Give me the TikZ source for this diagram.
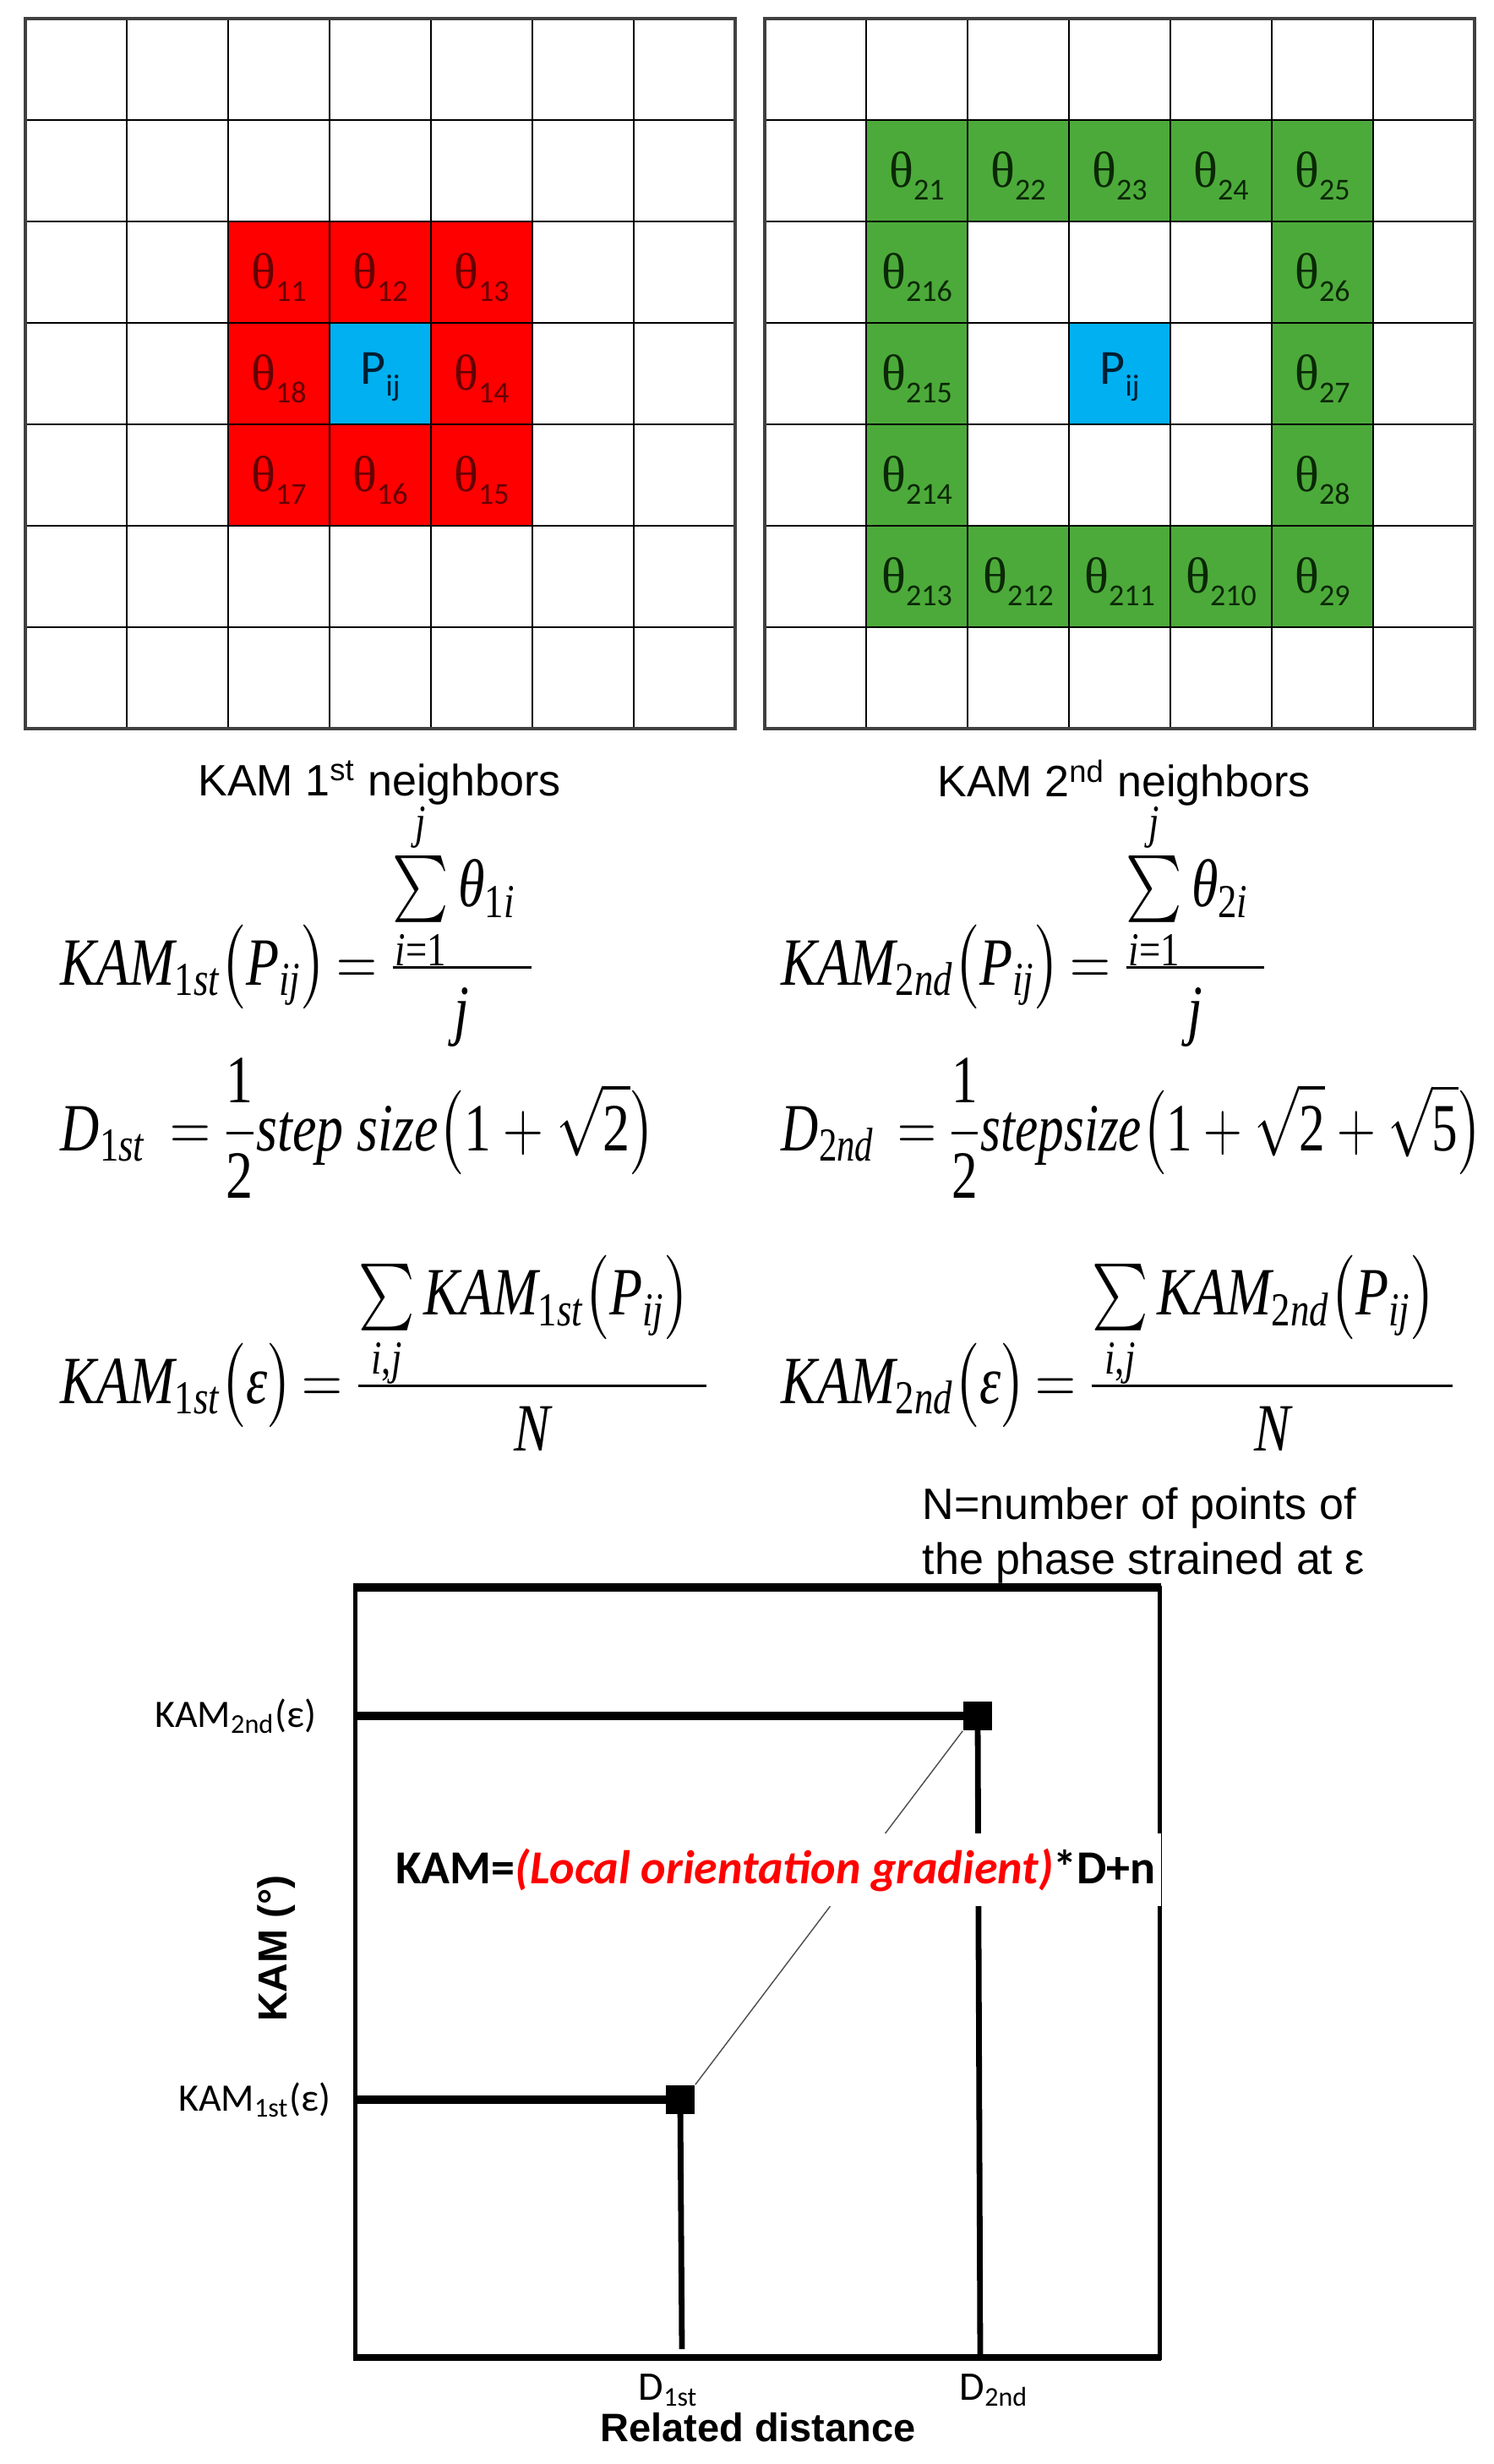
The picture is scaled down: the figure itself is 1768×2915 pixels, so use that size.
\documentclass[tikz,border=0pt]{standalone}
\usepackage{graphicx}
\usepackage{amsmath}
\usepackage{fontspec}
\setmainfont{Liberation Sans}
\newfontfamily\calfont{Carlito}
\newfontfamily\tmsfont{Liberation Serif}
\definecolor{kred}{RGB}{255,0,0}
\definecolor{kblue}{RGB}{0,176,240}
\definecolor{kgreen}{RGB}{76,170,58}
\definecolor{tred}{RGB}{100,0,0}
\definecolor{tgreen}{RGB}{10,40,5}
\definecolor{tblue}{RGB}{0,30,50}
\newcommand\thl[1]{{\fontsize{15pt}{16pt}\tmsfont θ}\raisebox{-3.6pt}{\fontsize{9pt}{9pt}\calfont #1}}
\newcommand\pij{{\fontsize{14.5pt}{16pt}\calfont P}\raisebox{-3.6pt}{\fontsize{9pt}{9pt}\calfont ij}}
\newcommand\eqsize{\fontsize{20pt}{24pt}\selectfont}
\newcommand\eqbox[2][0.8]{\scalebox{#1}[1]{\eqsize$\displaystyle #2$}}
\newcommand\ti[1]{\text{\tmsfont\itshape #1}}
\newcommand\tu[1]{\text{\tmsfont #1}}
\newcommand\sone{{\tu{1}\ti{st}}}
\newcommand\stwo{{\tu{2}\ti{nd}}}
\newcommand\smsum{\mathop{\vcenter{\hbox{\scalebox{0.95}{$\textstyle\sum$}}}}\limits}
\newcommand\lownum[2]{\raisebox{-#1}[\height][\depth]{$\textstyle #2$}}
\newcommand\eqs{\mkern-2mu=\mkern-1mu}
\begin{document}
\begin{tikzpicture}[x=0.25pt,y=-0.25pt,
  gridline/.style={line width=0.7pt,black},
  outerline/.style={line width=1pt,black!75},
  eqn/.style={anchor=base west,inner sep=0pt},
  cellred/.style={text=tred,inner sep=0pt},
  cellgreen/.style={text=tgreen,inner sep=0pt},
  sideline/.style={line width=1.25pt},
  thickline/.style={line width=2.3pt},
  dline/.style={line width=1.7pt},
  sq/.style={fill=black,minimum size=8.5pt,inner sep=0pt},
  lbl/.style={inner sep=0pt}]
\fill[white] (0,0) rectangle (1768,2915);
\useasboundingbox (0,0) rectangle (1768,2915);
% ---------- left grid ----------
\foreach \c/\r/\lab in {2/2/11,3/2/12,4/2/13,2/3/18,4/3/14,2/4/17,3/4/16,4/4/15} {
  \fill[kred] (30+120*\c,22+120*\r) rectangle ++(120,120);
}
\fill[kblue] (390,382) rectangle (510,502);
\foreach \i in {1,...,6} {
  \draw[gridline] (30+120*\i,22) -- (30+120*\i,862);
  \draw[gridline] (30,22+120*\i) -- (870,22+120*\i);
}
\draw[outerline] (30,22) rectangle (870,862);
\foreach \c/\r/\lab in {2/2/11,3/2/12,4/2/13,2/3/18,4/3/14,2/4/17,3/4/16,4/4/15} {
  \node[cellred] (a\lab) at (90+120*\c,88+120*\r) {\thl{\lab}};
}
\node[text=tblue,inner sep=0pt] (pa) at (450,446) {\pij};
% ---------- right grid ----------
\foreach \c/\r/\lab in {1/1/21,2/1/22,3/1/23,4/1/24,5/1/25,5/2/26,5/3/27,5/4/28,5/5/29,4/5/210,3/5/211,2/5/212,1/5/213,1/4/214,1/3/215,1/2/216} {
  \fill[kgreen] (905+120*\c,22+120*\r) rectangle ++(120,120);
}
\fill[kblue] (1265,382) rectangle (1385,502);
\foreach \i in {1,...,6} {
  \draw[gridline] (905+120*\i,22) -- (905+120*\i,862);
  \draw[gridline] (905,22+120*\i) -- (1745,22+120*\i);
}
\draw[outerline] (905,22) rectangle (1745,862);
\foreach \c/\r/\lab in {1/1/21,2/1/22,3/1/23,4/1/24,5/1/25,5/2/26,5/3/27,5/4/28,5/5/29,4/5/210,3/5/211,2/5/212,1/5/213,1/4/214,1/3/215,1/2/216} {
  \node[cellgreen] (b\lab) at (965+120*\c,88+120*\r) {\thl{\lab}};
}
\node[text=tblue,inner sep=0pt] (pb) at (1325,446) {\pij};
% ---------- captions ----------
\node[lbl] (cap1) at (449,926) {\fontsize{13pt}{15pt}\selectfont KAM 1\textsuperscript{st} neighbors};
\node[lbl] (cap2) at (1330,926) {\fontsize{13pt}{15pt}\selectfont KAM 2\textsuperscript{nd} neighbors};
% ---------- equations ----------
\node[eqn] (e1l) at (71,1165) {\eqbox{\ti{KAM}_{\sone}\bigl(\ti{P}_{\ti{ij}}\bigr)\eqs\frac{\lownum{4.5pt}{\smsum_{\ti{i}\tu{=1}}^{\ti{j}}\ti{θ}_{\tu{1}\ti{i}}\;}}{\ti{j}}}};
\node[eqn] (e1r) at (924,1165) {\eqbox{\ti{KAM}_{\stwo}\bigl(\ti{P}_{\ti{ij}}\bigr)\eqs\frac{\lownum{4.5pt}{\smsum_{\ti{i}\tu{=1}}^{\ti{j}}\ti{θ}_{\tu{2}\ti{i}}\;}}{\ti{j}}}};
\node[eqn] (e2l) at (71,1361) {\eqbox{\ti{D}_{\sone}\;\eqs\frac{\tu{1}}{\tu{2}}\ti{step size}\bigl(\tu{1}+\sqrt{\tu{2}}\bigr)}};
\node[eqn] (e2r) at (924,1361) {\eqbox[0.765]{\ti{D}_{\stwo}\;\eqs\frac{\tu{1}}{\tu{2}}\ti{stepsize}\bigl(\tu{1}+\sqrt{\tu{2}}+\sqrt{\tu{5}}\bigr)}};
\node[eqn] (e3l) at (71,1660) {\eqbox{\ti{KAM}_{\sone}\bigl(\ti{ε}\bigr)\eqs\frac{\lownum{4.5pt}{\smsum_{\ti{i}\tu{,}\ti{j}}\ti{KAM}_{\sone}\bigl(\ti{P}_{\ti{ij}}\bigr)\;}}{\ti{N}}}};
\node[eqn] (e3r) at (924,1660) {\eqbox{\ti{KAM}_{\stwo}\bigl(\ti{ε}\bigr)\eqs\frac{\lownum{4.5pt}{\smsum_{\ti{i}\tu{,}\ti{j}}\ti{KAM}_{\stwo}\bigl(\ti{P}_{\ti{ij}}\bigr)\;}}{\ti{N}}}};
\node[lbl,anchor=base west] (n1) at (1091,1797) {\fontsize{13pt}{15pt}\selectfont N=number of points of};
\node[lbl,anchor=base west] (n2) at (1091,1862) {\fontsize{13pt}{15pt}\selectfont the phase strained at ε};
% ---------- plot ----------
\coordinate (tl) at (420,1878);
\coordinate (tr) at (1372,1878);
\coordinate (bl) at (420,2789);
\coordinate (br) at (1372,2789);
\coordinate (y2) at (420,2030);
\coordinate (y1) at (420,2484);
\coordinate (x2) at (1160,2789);
\coordinate (x1) at (807,2779);
\node[sq] (s1) at (805,2484) {};
\node[sq] (s2) at (1157,2030) {};
\draw[line width=0.35pt,black!70] (s1.north east) -- (s2.south west);
\draw[sideline] (tl) rectangle (br);
\draw[thickline] ([xshift=-0.6pt]tl) -- ([xshift=0.6pt]tr);
\draw[line width=1.8pt] ([xshift=-0.6pt]bl) -- ([xshift=0.6pt]br);
\draw[thickline] (y2) -- (s2.center);
\draw[thickline] (y1) -- (s1.center);
\draw[dline] (s2.center) -- (x2);
\draw[dline] (s1.center) -- (x1);
\node[fill=white,inner xsep=1.5pt,minimum height=21.5pt] (law) at (918,2212)
  {\calfont\bfseries\fontsize{14pt}{16pt}\selectfont KAM=\textcolor{kred}{\itshape(Local orientation gradient)}*D+n};
\node[lbl,anchor=east] (k2) at (375,2030) {\calfont\fontsize{11.5pt}{13pt}\selectfont KAM\textsubscript{2nd}(ε)};
\node[lbl,anchor=east] (k1) at (392,2484) {\calfont\fontsize{11.5pt}{13pt}\selectfont KAM\textsubscript{1st}(ε)};
\node[lbl,rotate=90] (yl) at (327,2305) {\bfseries\fontsize{12pt}{14pt}\selectfont KAM (°)};
\node[lbl,anchor=base west] (d1) at (755,2839) {\calfont\fontsize{12pt}{14pt}\selectfont D\textsubscript{1st}};
\node[lbl,anchor=base west] (d2) at (1135,2839) {\calfont\fontsize{12pt}{14pt}\selectfont D\textsubscript{2nd}};
\node[lbl] (rd) at (897,2872) {\bfseries\fontsize{11.75pt}{13pt}\selectfont Related distance};
\end{tikzpicture}
\end{document}
